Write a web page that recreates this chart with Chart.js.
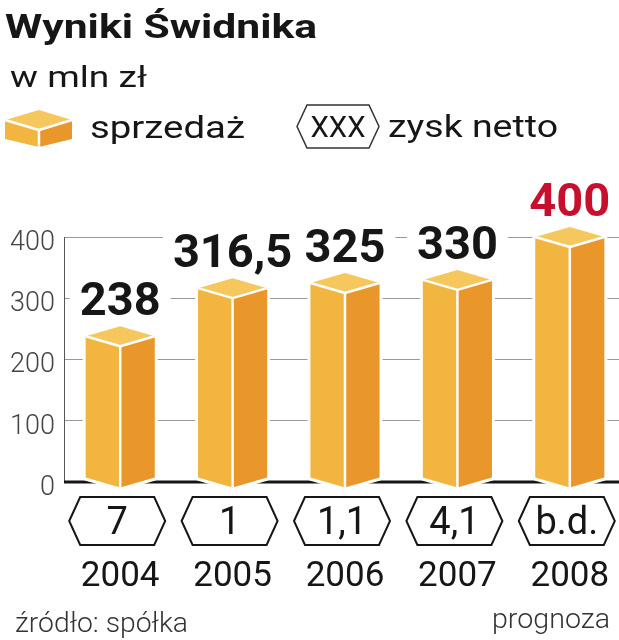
<!DOCTYPE html>
<html lang="pl">
<head>
<meta charset="utf-8">
<title>Wyniki Świdnika</title>
<script src="https://cdn.jsdelivr.net/npm/chart.js@4.4.1/dist/chart.umd.min.js"></script>
<style>
  html, body { margin: 0; padding: 0; background: #fff; overflow: hidden; }
  #wrap { width: 640px; height: 640px; }
</style>
</head>
<body>
<div id="wrap"><canvas id="chart" width="640" height="640"></canvas></div>
<script>
// dane z grafiki
const years = ["2004", "2005", "2006", "2007", "2008"];
const sales = [238, 316.5, 325, 330, 400];   // sprzedaż, mln zł (2008 = prognoza)
const netProfit = [7, 1, 1.1, 4.1, null];     // zysk netto, null = brak danych
const yTicks = [0, 100, 200, 300, 400];

const INK = "#161616";
const RED = "#c8102e";
const FONT = "Roboto, 'Noto Sans', sans-serif";

// liczby po polsku: przecinek zamiast kropki
function fmt(v) {
  if (v === null) return "b.d.";
  return String(v).replace(".", ",");
}

// tekst; jesli podano width, napis jest rozciagany w poziomie do tej szerokosci
function text(ctx, str, x, y, font, color, align, width) {
  ctx.save();
  ctx.font = font;
  ctx.fillStyle = color;
  ctx.textAlign = align || "left";
  ctx.textBaseline = "alphabetic";
  ctx.translate(x, y);
  if (width) {
    ctx.scale(width / ctx.measureText(str).width, 1);
  }
  ctx.fillText(str, 0, 0);
  ctx.restore();
}

function face(ctx, pts, color) {
  ctx.beginPath();
  pts.forEach((p, i) => (i ? ctx.lineTo(p[0], p[1]) : ctx.moveTo(p[0], p[1])));
  ctx.closePath();
  ctx.fillStyle = color;
  ctx.fill();
}

// slupek "3D": lewa sciana, prawa sciana, wieko
function box(ctx, l, c, r, top, bot, dt, db) {
  ctx.save();
  ctx.lineJoin = "round";
  ctx.beginPath();
  ctx.moveTo(l, top);
  ctx.lineTo(c, top - dt);
  ctx.lineTo(r, top);
  ctx.lineTo(r, bot);
  ctx.lineTo(c, bot + db);
  ctx.lineTo(l, bot);
  ctx.closePath();
  ctx.fillStyle = "#fff";
  ctx.strokeStyle = "#fff";
  ctx.lineWidth = 6;
  ctx.fill();
  ctx.stroke();
  face(ctx, [[l, top], [c, top + dt], [c, bot + db], [l, bot]], "#f2b540");
  face(ctx, [[c, top + dt], [r, top], [r, bot], [c, bot + db]], "#e9962a");
  face(ctx, [[l, top], [c, top - dt], [r, top], [c, top + dt]], "#f6c75c");
  ctx.beginPath();
  ctx.moveTo(l, top);
  ctx.lineTo(c, top + dt);
  ctx.lineTo(r, top);
  ctx.moveTo(c, top + dt);
  ctx.lineTo(c, bot + db);
  ctx.strokeStyle = "#fff";
  ctx.lineWidth = 2.5;
  ctx.stroke();
  ctx.restore();
}

function hexagon(ctx, cx, cy, w, h, tip, stroke, lw) {
  ctx.save();
  ctx.beginPath();
  ctx.moveTo(cx - w / 2, cy);
  ctx.lineTo(cx - w / 2 + tip, cy - h / 2);
  ctx.lineTo(cx + w / 2 - tip, cy - h / 2);
  ctx.lineTo(cx + w / 2, cy);
  ctx.lineTo(cx + w / 2 - tip, cy + h / 2);
  ctx.lineTo(cx - w / 2 + tip, cy + h / 2);
  ctx.closePath();
  ctx.fillStyle = "#fff";
  ctx.fill();
  ctx.strokeStyle = stroke;
  ctx.lineWidth = lw;
  ctx.lineJoin = "miter";
  ctx.stroke();
  ctx.restore();
}

const swidnikPlugin = {
  id: "swidnik",
  beforeDatasetsDraw(chart) {
    // gruba linia zera
    const { ctx, chartArea: a, scales: { y } } = chart;
    const y0 = y.getPixelForValue(0);
    ctx.save();
    ctx.strokeStyle = INK;
    ctx.lineWidth = 3;
    ctx.beginPath();
    ctx.moveTo(a.left, y0);
    ctx.lineTo(a.right, y0);
    ctx.stroke();
    ctx.restore();
  },
  afterDatasetsDraw(chart) {
    const { ctx } = chart;
    const bars = chart.getDatasetMeta(0).data;
    bars.forEach((bar) => {
      const half = bar.width / 2;
      box(ctx, bar.x - half, bar.x, bar.x + half, bar.y, bar.base - 4, 10, 10);
    });
    bars.forEach((bar, i) => {
      const label = fmt(sales[i]);
      const base = bar.y - 21;
      const font = "bold 47px " + FONT;
      ctx.save();
      ctx.font = font;
      const w = ctx.measureText(label).width;
      ctx.fillStyle = "#fff";
      ctx.fillRect(bar.x - w / 2 - 10, base - 40, w + 20, 46);
      ctx.restore();
      // ostatni rok to prognoza - na czerwono
      text(ctx, label, bar.x, base, font, i === sales.length - 1 ? RED : INK, "center");
    });
  },
  afterDraw(chart) {
    const { ctx, scales: { x } } = chart;

    // zysk netto w szesciokatach pod osia
    netProfit.forEach((v, i) => {
      const cx = x.getPixelForValue(i) - 3;
      hexagon(ctx, cx, 521, 96, 48, 11, INK, 2);
      text(ctx, fmt(v), cx, 534, "38px " + FONT, INK, "center");
    });

    // tytul i legenda
    text(ctx, "Wyniki Świdnika", 5, 38, "bold 33px " + FONT, INK, "left", 312);
    text(ctx, "w mln zł", 10, 87, "30px " + FONT, INK, "left", 137);

    box(ctx, 5, 39, 72, 120, 139, 10, 8);
    text(ctx, "sprzedaż", 90, 138, "32px " + FONT, INK, "left", 155);

    hexagon(ctx, 338, 126.5, 82, 43, 10, "#333", 1.5);
    text(ctx, "XXX", 338, 137, "29px " + FONT, INK, "center", 55);
    text(ctx, "zysk netto", 388, 137, "32px " + FONT, INK, "left", 170);

    // stopka
    text(ctx, "źródło: spółka", 15, 632, "300 27px " + FONT, "#333", "left", 173);
    text(ctx, "prognoza", 610, 628, "300 27px " + FONT, "#333", "right", 118);
  }
};

document.addEventListener("DOMContentLoaded", () => {
  const ctx = document.getElementById("chart").getContext("2d");
  new Chart(ctx, {
    type: "bar",
    data: {
      labels: years,
      datasets: [
        {
          label: "sprzedaż",
          data: sales,
          backgroundColor: "rgba(0,0,0,0)",
          borderWidth: 0,
          categoryPercentage: 1,
          barPercentage: 0.615,
        },
      ],
    },
    options: {
      responsive: false,
      animation: false,
      devicePixelRatio: 1,
      layout: { padding: { top: 237, left: 0, right: 14, bottom: 0 } },
      plugins: {
        legend: { display: false },
        tooltip: { enabled: false },
      },
      scales: {
        x: {
          // niewidoczne kreski osi odsuwaja lata w dol pod szesciokaty
          grid: { display: false, drawTicks: true, tickLength: 70 },
          border: { display: false },
          ticks: {
            color: INK,
            font: { family: FONT, size: 35 },
            padding: 4,
          },
          afterFit: (s) => { s.height = 158; },
        },
        y: {
          min: yTicks[0],
          max: yTicks[yTicks.length - 1],
          afterBuildTicks: (s) => { s.ticks = yTicks.map((v) => ({ value: v })); },
          grid: {
            color: (c) => (c.tick && c.tick.value === 0 ? "rgba(0,0,0,0)" : "#999"),
            lineWidth: 1,
            drawTicks: false,
          },
          border: { color: "#555", width: 1 },
          ticks: {
            color: "#444",
            font: { family: FONT, size: 27, weight: "300" },
            padding: 9,
            labelOffset: 6,
          },
          afterFit: (s) => { s.width = 64; },
        },
      },
    },
    plugins: [swidnikPlugin],
  });
});
</script>
</body>
</html>
